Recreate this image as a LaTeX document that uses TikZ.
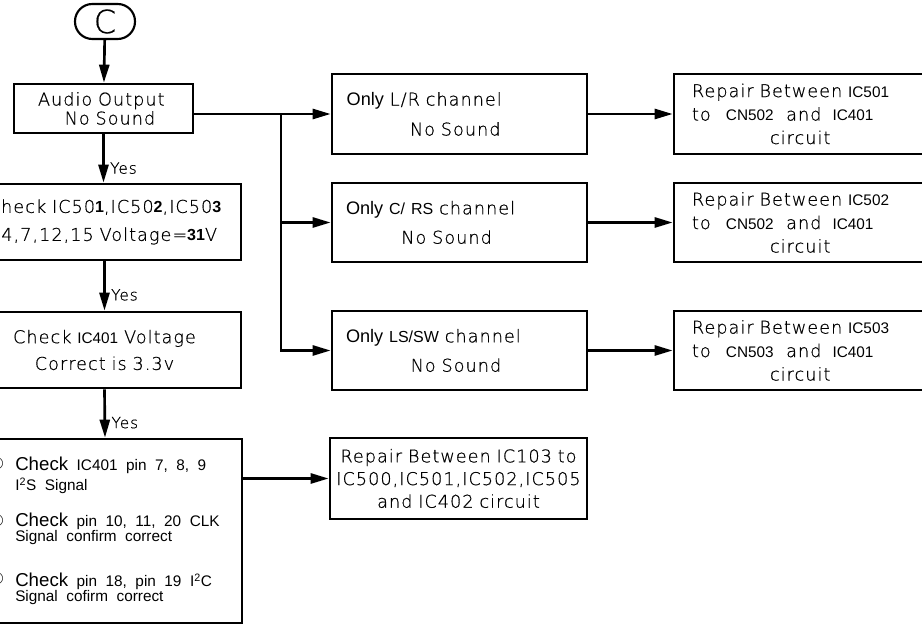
\documentclass[tikz,border=0pt]{standalone}
\usepackage{fontspec}
\setmainfont{Liberation Sans}
\newfontfamily\cadfont[LetterSpace=6,WordSpace=2.4,FakeBold=0.6]{DejaVu Sans ExtraLight}
\newfontfamily\numfont{DejaVu Sans}
\newfontfamily\itemfont[WordSpace=2]{Liberation Sans}
\usetikzlibrary{arrows.meta}
\newcommand\arl[2][11.5]{{\normalfont\fontsize{#1}{#1}\selectfont #2}}
\newcommand\arb[2][12]{{\normalfont\bfseries\fontsize{#1}{#1}\selectfont #2}}
\newcommand\chkword{{\fontsize{14}{14}\selectfont Check}}

\tikzset{
  box/.style={draw,line width=2pt,inner sep=0pt,text width=#1,minimum width=#1},
  cad/.style={font=\cadfont\fontsize{13.2}{#1}\selectfont},
  flow/.style={line width=2pt,-{Triangle[length=13.5pt,width=7.5pt]}},
  wire/.style={line width=2pt},
  yes/.style={right,xshift=3pt,inner sep=1pt,font=\cadfont\fontsize{11.5}{13}\selectfont},
  item/.style={anchor=base west,align=left,inner sep=0pt,font=\itemfont\fontsize{11.5}{#1}\selectfont},
  num/.style={inner sep=0pt,font=\numfont\fontsize{12}{12}\selectfont},
}

\begin{document}
\begin{tikzpicture}[x=0.75pt,y=-0.75pt]
\useasboundingbox (0,0) rectangle (922,630);

% start terminal
\node[draw,line width=1.6pt,rounded corners=13pt,minimum width=45pt,minimum height=26.25pt,inner sep=0pt,font=\cadfont\fontsize{24}{24}\selectfont] (start) at (105,21.5) {C};

% left column
\node[box=134.25pt,cad=14.25pt,minimum height=36.75pt] (audio) at (103.5,108.5) {\hspace*{18pt}Audio Output\\\hspace*{38pt}No Sound};
\node[box=204.75pt,cad=21pt,align=center,minimum height=57pt] (volt) at (104.5,222) {Check IC50\arb{1},IC50\arb{2},IC50\arb{3}\\Pin4,7,12,15 Voltage=\arb{31}V\hspace*{15pt}\mbox{}};
\node[box=204.75pt,cad=20pt,align=center,minimum height=57pt] (ic401) at (104.5,350) {Check \arl{IC401} Voltage\\Correct is 3.3v};
\node[box=205.5pt,minimum height=138pt] (sig) at (105,531) {};

\node[num] (numA) at (-3,464) {①};
\node[num] (numB) at (-3,521) {②};
\node[num] (numC) at (-3,579) {③};
\node[item=15pt]    (sigA) at (15,491) {\chkword\ IC401 pin 7, 8, 9\\I\textsuperscript{2}S Signal};
\node[item=11.25pt] (sigB) at (15,542) {\chkword\ pin 10, 11, 20 CLK\\Signal confirm correct};
\node[item=11.25pt] (sigC) at (15,602) {\chkword\ pin 18, pin 19 I\textsuperscript{2}C\\Signal cofirm correct};

% channel boxes
\node[box=191.25pt,cad=22.5pt,minimum height=60pt] (lr) at (459.5,114) {\hspace*{11pt}\arl[13.6]{Only} L/R channel\\\hspace*{58.5pt}No Sound};
\node[box=191.25pt,cad=22pt,minimum height=59.25pt] (crs) at (459.5,222.5) {\hspace*{10.5pt}\arl[13.6]{Only} \arl[12]{C/ RS} channel\\\hspace*{52pt}No Sound};
\node[box=191.25pt,cad=22pt,minimum height=59.25pt] (lssw) at (459.5,350.5) {\hspace*{10.5pt}\arl[13.6]{Only} \arl[12]{LS/SW} channel\\\hspace*{59pt}No Sound};

% repair boxes
\node[box=195pt,cad=17.6pt,minimum height=60pt] (fixA) at (804,114) {\hspace*{13.5pt}Repair Between \arl{IC501}\\\hspace*{13.5pt}to\hspace*{7pt} \arl{CN502}\hspace*{5pt} and\hspace*{4pt} \arl{IC401}\\\hspace*{72pt}circuit};
\node[box=195pt,cad=17.6pt,minimum height=59.25pt] (fixB) at (804,222.5) {\hspace*{13.5pt}Repair Between \arl{IC502}\\\hspace*{13.5pt}to\hspace*{7pt} \arl{CN502}\hspace*{5pt} and\hspace*{4pt} \arl{IC401}\\\hspace*{72pt}circuit};
\node[box=195pt,cad=17.6pt,minimum height=59.25pt] (fixC) at (804,350.5) {\hspace*{13.5pt}Repair Between \arl{IC503}\\\hspace*{13.5pt}to\hspace*{7pt} \arl{CN503}\hspace*{5pt} and\hspace*{4pt} \arl{IC401}\\\hspace*{72pt}circuit};
\node[box=192.75pt,cad=17pt,align=center,minimum height=60.75pt] (fixD) at (458.5,478.5) {Repair Between IC103 to\\IC500,IC501,IC502,IC505\\and IC402 circuit};

% connectors
\draw[flow] (start) -- (audio);
\draw[flow] (audio.south) -- (audio.south |- volt.north) node[yes,pos=0.7] {Yes};
\draw[flow] (volt.south) -- (ic401.north) node[yes,pos=0.68] {Yes};
\draw[flow] (ic401.south) -- (sig.north) node[yes,pos=0.69] {Yes};

\coordinate (split) at (281,114);
\draw[wire] (audio.east |- split) -- (split);
\draw[flow] (split) -- (lr.west);
\draw[flow] (split) |- (crs.west);
\draw[flow] (split) |- (lssw.west);

\draw[flow] (lr) -- (fixA);
\draw[flow] (crs) -- (fixB);
\draw[flow] (lssw) -- (fixC);
\draw[flow] (sig.east |- fixD.west) -- (fixD.west);

\end{tikzpicture}
\end{document}
